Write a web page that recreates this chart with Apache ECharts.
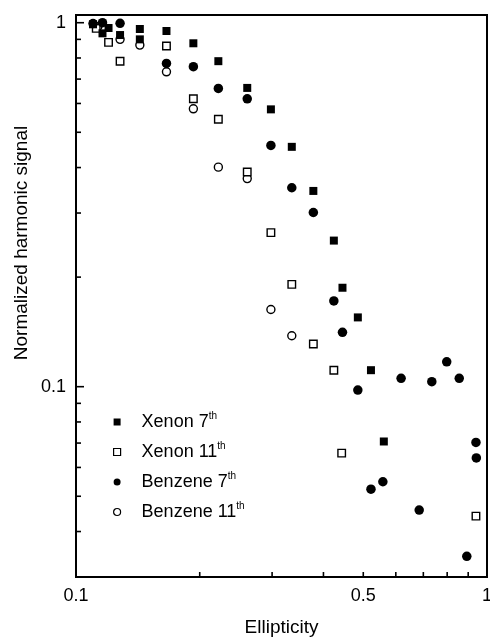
<!DOCTYPE html>
<html>
<head>
<meta charset="utf-8">
<script src="https://cdn.jsdelivr.net/npm/echarts@6/dist/echarts.min.js"></script>
<style>html,body{margin:0;padding:0;background:#fff;}#c{width:490px;height:637px;}</style>
</head>
<body>
<div id="c"></div>
<script>
// ---- data (ellipticity, normalized signal) ----
const seriesNames = ['Xenon 7th', 'Xenon 11th', 'Benzene 7th', 'Benzene 11th'];
const xenon7 = [[0.110,0.99],[0.116,0.935],[0.120,0.967],[0.128,0.925],[0.143,0.961],[0.143,0.900],[0.166,0.949],[0.193,0.878],[0.222,0.784],[0.261,0.662],[0.298,0.578],[0.335,0.456],[0.378,0.345],[0.424,0.252],[0.445,0.187],[0.485,0.155],[0.522,0.111],[0.561,0.0707]];
const xenon11 = [[0.112,0.965],[0.120,0.883],[0.128,0.784],[0.166,0.863],[0.193,0.618],[0.222,0.543],[0.261,0.389],[0.298,0.265],[0.335,0.191],[0.378,0.131],[0.424,0.111],[0.443,0.0657],[0.940,0.0441]];
const benzene7 = [[0.110,0.995],[0.116,1.0],[0.128,0.996],[0.166,0.773],[0.193,0.757],[0.222,0.660],[0.261,0.618],[0.298,0.460],[0.335,0.352],[0.378,0.301],[0.424,0.172],[0.445,0.141],[0.485,0.0979],[0.522,0.0523],[0.558,0.0548],[0.618,0.1054],[0.684,0.0458],[0.734,0.1032],[0.798,0.117],[0.856,0.1054],[0.893,0.0342],[0.940,0.0703],[0.942,0.0637]];
const benzene11 = [[0.113,0.975],[0.128,0.900],[0.143,0.868],[0.166,0.733],[0.193,0.580],[0.222,0.401],[0.261,0.373],[0.298,0.163],[0.335,0.138]];

// ---- axes ----
const xMin = 0.1, xMax = 1;
const yMin = 0.03, yMax = 1.05;
const xMinorTicks = [0.2,0.3,0.4,0.5,0.6,0.7,0.8,0.9];
const yMinorTicks = [0.04,0.05,0.06,0.07,0.08,0.09,0.2,0.3,0.4,0.5,0.6,0.7,0.8,0.9];
const yMajorTicks = [0.1, 1];
const xTickValues = [0.1, 0.5, 1];
const xTickLabels = ['0.1', '0.5', '1'];

const FONT = "'Liberation Sans', Arial, Helvetica, sans-serif";

function tickSeries(data, dir, len) {
  return {
    type: 'custom', silent: true, z: 1,
    data: data,
    renderItem: function (params, api) {
      const p = api.coord([api.value(0), api.value(1)]);
      const shape = dir === 'x'
        ? {x1: p[0], y1: p[1], x2: p[0], y2: p[1] - len}
        : {x1: p[0], y1: p[1], x2: p[0] + len, y2: p[1]};
      return {type: 'line', shape: shape, style: {stroke: '#000', lineWidth: 1.6}};
    }
  };
}

const chart = echarts.init(document.getElementById('c'), null, {renderer: 'canvas'});
chart.setOption({
  animation: false,
  backgroundColor: '#fff',
  grid: {left: 76, right: 3, top: 15, bottom: 60, show: true, borderColor: '#000', borderWidth: 2,
    backgroundColor: 'transparent', containLabel: false, outerBoundsMode: 'none'},
  xAxis: {
    type: 'log', logBase: 10, min: xMin, max: xMax,
    name: 'Ellipticity', nameLocation: 'middle', nameGap: 41,
    nameTextStyle: {fontFamily: FONT, fontSize: 19, color: '#000'},
    axisLine: {lineStyle: {color: '#000', width: 2}},
    axisTick: {show: false},
    axisLabel: {show: false},
    splitLine: {show: false}
  },
  yAxis: {
    type: 'log', logBase: 10, min: yMin, max: yMax,
    axisLine: {lineStyle: {color: '#000', width: 2}},
    axisTick: {show: false},
    axisLabel: {
      margin: 10, fontFamily: FONT, fontSize: 18, color: '#000',
      showMinLabel: false, showMaxLabel: false,
      formatter: function (v) {
        const l = Math.log10(v);
        return Math.abs(l - Math.round(l)) < 1e-6 ? String(Math.pow(10, Math.round(l))) : '';
      }
    },
    splitLine: {show: false}
  },
  graphic: [{
    type: 'text', x: 22, y: 243, rotation: Math.PI / 2,
    style: {text: 'Normalized harmonic signal', font: '19px ' + FONT, fill: '#000', align: 'center', verticalAlign: 'middle'}
  }],
  legend: {
    orient: 'vertical', left: 108, top: 406, itemGap: 10,
    itemWidth: 7, itemHeight: 7,
    data: [
      {name: seriesNames[0], icon: 'rect', itemStyle: {borderWidth: 0}},
      {name: seriesNames[1], icon: 'rect', itemStyle: {borderWidth: 1.2}},
      {name: seriesNames[2], icon: 'circle', itemStyle: {borderWidth: 0}},
      {name: seriesNames[3], icon: 'circle', itemStyle: {borderWidth: 1.2}}
    ],
    selectedMode: false,
    textStyle: {
      padding: [0, 0, 0, 16],
      fontFamily: FONT, color: '#000',
      rich: {
        a: {fontFamily: FONT, fontSize: 18, lineHeight: 22, color: '#000'},
        s: {fontFamily: FONT, fontSize: 10, lineHeight: 10, verticalAlign: 'top', color: '#000'}
      }
    },
    formatter: function (name) {
      return '{a|' + name.slice(0, -2) + '}{s|th}';
    }
  },
  series: [
    tickSeries(xMinorTicks.map(v => [v, yMin]), 'x', 5),
    tickSeries(yMinorTicks.map(v => [xMin, v]), 'y', 5),
    tickSeries(yMajorTicks.map(v => [xMin, v]), 'y', 8),
    {
      type: 'custom', silent: true, z: 1,
      data: xTickValues.map((v, i) => [v, yMin, i]),
      clip: false,
      renderItem: function (params, api) {
        const p = api.coord([api.value(0), api.value(1)]);
        return {type: 'text', x: p[0], y: p[1] + 19,
          style: {text: xTickLabels[api.value(2)], font: '18px ' + FONT, fill: '#000', align: 'center', verticalAlign: 'middle'}};
      }
    },
    {name: seriesNames[3], type: 'scatter', data: benzene11, symbol: 'circle', symbolSize: 8, z: 2,
      itemStyle: {color: '#fff', borderColor: '#000', borderWidth: 1.4, opacity: 1}},
    {name: seriesNames[1], type: 'scatter', data: xenon11, symbol: 'rect', symbolSize: 7.5, z: 2,
      itemStyle: {color: '#fff', borderColor: '#000', borderWidth: 1.4, opacity: 1}},
    {name: seriesNames[2], type: 'scatter', data: benzene7, symbol: 'circle', symbolSize: 9.5, z: 3,
      itemStyle: {color: '#000', opacity: 1}},
    {name: seriesNames[0], type: 'scatter', data: xenon7, symbol: 'rect', symbolSize: 8, z: 3,
      itemStyle: {color: '#000', opacity: 1}}
  ]
});
</script>
</body>
</html>
